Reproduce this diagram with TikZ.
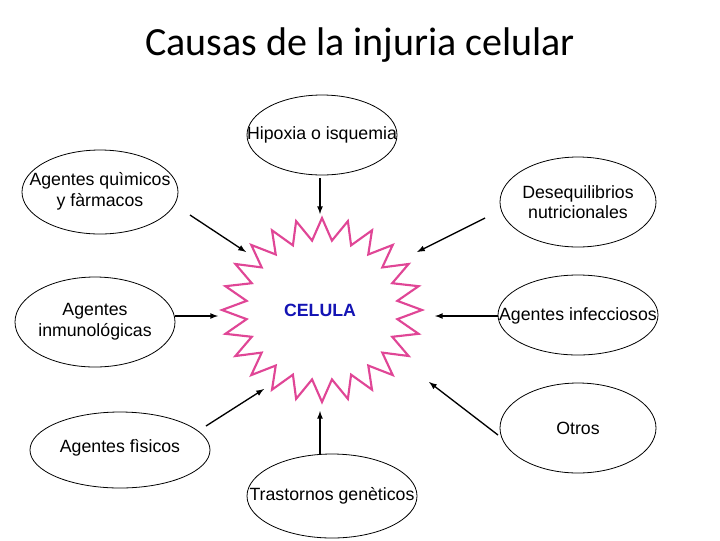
\documentclass[tikz,border=0pt]{standalone}
\usepackage{fontspec}
\setmainfont{Liberation Sans}
\newfontfamily\titlefont{Carlito}
\begin{document}
\begin{tikzpicture}[x=0.75pt,y=-0.75pt,
  lab/.style={font=\fontsize{13.3}{15.5}\selectfont,align=center},
  arr/.style={-latex,line width=1pt}]
\useasboundingbox (0,0) rectangle (720,540);
\node[font=\titlefont\fontsize{30}{34}\selectfont] (title) at (360,45) {Causas de la injuria celular};
\draw[line width=0.6pt] (322,135) ellipse (75 and 40);
\draw[line width=0.6pt] (100,192) ellipse (78 and 42);
\draw[line width=0.6pt] (578,202) ellipse (78 and 45);
\draw[line width=0.6pt] (95,322) ellipse (80 and 45);
\draw[line width=0.6pt] (578,315) ellipse (80 and 40);
\draw[line width=0.6pt] (578,428) ellipse (78 and 45);
\draw[line width=0.6pt] (120,450) ellipse (90 and 38);
\draw[line width=0.6pt] (332,496) ellipse (85 and 42);
\node[lab] (hip) at (322,135) {Hipoxia o isquemia};
\node[lab] (qui) at (100,191) {Agentes quìmicos\\y fàrmacos};
\node[lab] (des) at (578,202) {Desequilibrios\\nutricionales};
\node[lab] (inm) at (95,322) {Agentes\\inmunológicas};
\node[lab] (inf) at (578,316) {Agentes infecciosos};
\node[lab] (otr) at (578,428) {Otros};
\node[lab] (fis) at (120,448) {Agentes fìsicos};
\node[lab] (tra) at (332,496) {Trastornos genèticos};
\draw[draw={rgb,255:red,224;green,70;blue,150},line width=1.6pt,line join=miter]
  plot[samples at={0,...,47}] ({322+(mod(\x,2)==0?100:76)*cos(\x*7.5+90)},{310+(mod(\x,2)==0?92:70)*sin(\x*7.5+90)}) -- cycle;
\node[font=\bfseries\fontsize{13.3}{15.5}\selectfont,text={rgb,255:red,20;green,20;blue,180}] (cel) at (320,310) {CELULA};
\coordinate (a1) at (320,178); \coordinate (b1) at (320,214);
\coordinate (a2) at (190,215); \coordinate (b2) at (246,252);
\coordinate (a3) at (485,218); \coordinate (b3) at (417,252);
\coordinate (a4) at (175,316); \coordinate (b4) at (218,316);
\coordinate (a5) at (498,316); \coordinate (b5) at (435,316);
\coordinate (a6) at (498,435); \coordinate (b6) at (429,382);
\coordinate (a7) at (206,426); \coordinate (b7) at (264,389);
\coordinate (a8) at (320,454); \coordinate (b8) at (320,411);
\foreach \i in {1,...,8} \draw[arr] (a\i) -- (b\i);
\end{tikzpicture}
\end{document}
